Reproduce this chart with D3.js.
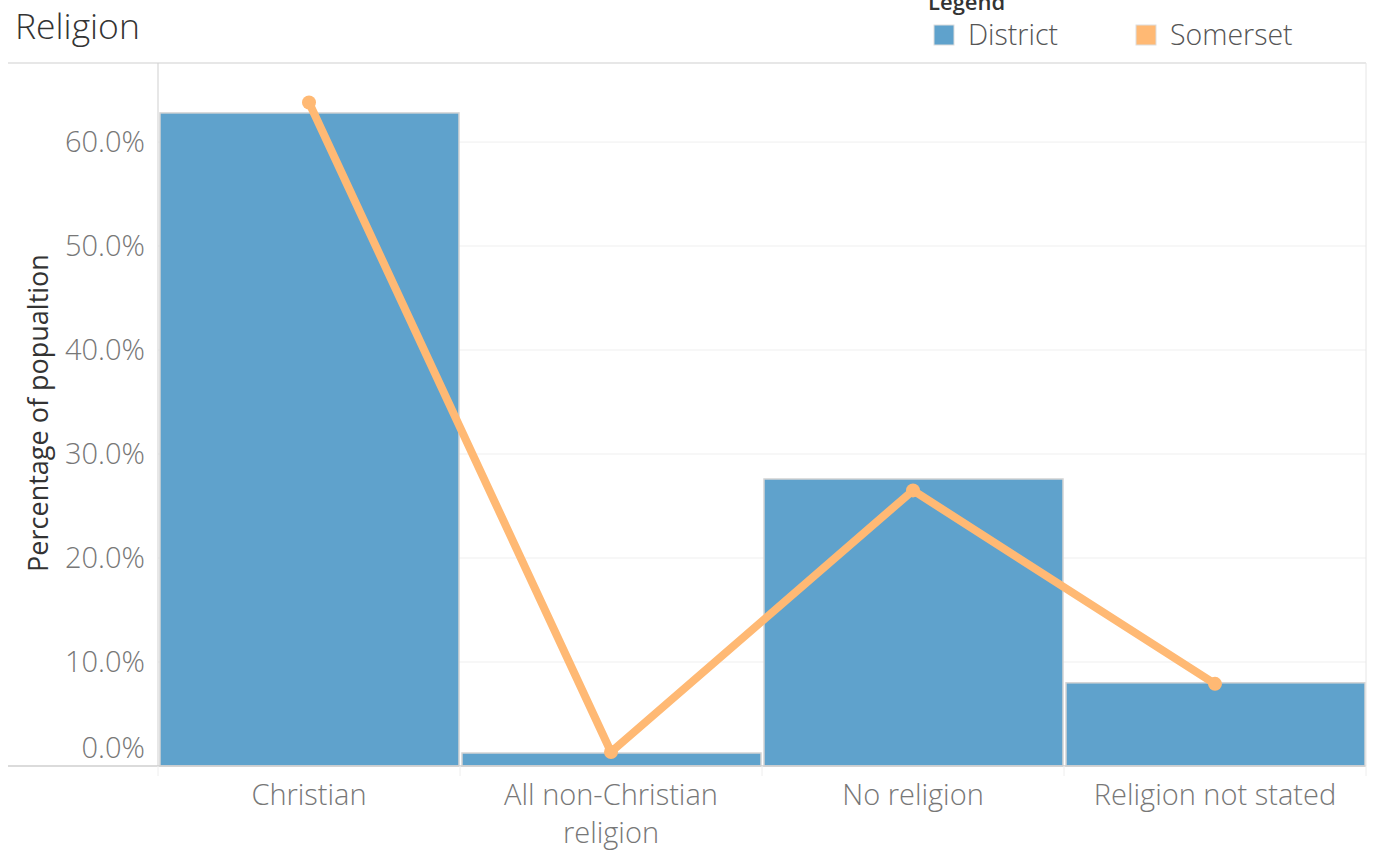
<!DOCTYPE html>
<html><head><meta charset="utf-8">
<script src="https://cdn.jsdelivr.net/npm/d3@7"></script>
<style>body{margin:0;background:#fff;} text{font-family:"Open Sans","Noto Sans",sans-serif;font-weight:300;}</style>
</head><body>
<svg id="c" width="1374" height="850"></svg>
<script>
const categories = ["Christian", "All non-Christian religion", "No religion", "Religion not stated"];
const categoryLines = [["Christian"], ["All non-Christian", "religion"], ["No religion"], ["Religion not stated"]];
const districtValues = [0.628, 0.0125, 0.276, 0.080];
const somersetValues = [0.638, 0.0135, 0.265, 0.079];
const yTicks = [0, 0.1, 0.2, 0.3, 0.4, 0.5, 0.6];
const seriesNames = ["District", "Somerset"];
const colors = ["#5fa2cc", "#ffb974"];

const svg = d3.select("#c");
const L = 158, R = 1366, T = 63, B = 766;
const x = d3.scaleBand().domain(categories).range([L, R]).padding(0);
const y = d3.scaleLinear().domain([0, 0.676]).range([B, T]);

// gridlines
svg.append("g").selectAll("line").data(yTicks.filter(d => d > 0)).join("line")
  .attr("x1", L).attr("x2", R).attr("y1", d => y(d)).attr("y2", d => y(d))
  .attr("stroke", "#efefef").attr("stroke-width", 1);

// bars
svg.append("g").selectAll("rect").data(categories).join("rect")
  .attr("x", d => x(d) + 2).attr("width", x.bandwidth() - 3)
  .attr("y", (d, i) => y(districtValues[i])).attr("height", (d, i) => B - y(districtValues[i]))
  .attr("fill", colors[0]).attr("stroke", "#d4d4d4").attr("stroke-width", 1.5);

// frame lines
svg.append("line").attr("x1", 8).attr("x2", R).attr("y1", T).attr("y2", T).attr("stroke", "#cfcfcf");
svg.append("line").attr("x1", 8).attr("x2", R).attr("y1", B).attr("y2", B).attr("stroke", "#cfcfcf").attr("stroke-width", 1.5);
svg.append("line").attr("x1", L).attr("x2", L).attr("y1", T).attr("y2", B).attr("stroke", "#cfcfcf");
svg.append("line").attr("x1", R).attr("x2", R).attr("y1", T).attr("y2", B).attr("stroke", "#e6e6e6");
// category separators below axis
svg.append("g").selectAll("line").data(categories.concat(["_end"])).join("line")
  .attr("x1", (d, i) => i < categories.length ? x(d) : R).attr("x2", (d, i) => i < categories.length ? x(d) : R)
  .attr("y1", B).attr("y2", B + 10).attr("stroke", "#eeeeee");

// y labels
svg.append("g").selectAll("text").data(yTicks).join("text")
  .attr("x", 145).attr("y", d => Math.min(y(d), 748)).attr("dy", "0.36em")
  .attr("text-anchor", "end").attr("font-size", 29).attr("fill", "#777")
  .text(d => d3.format(".1%")(d));

// y title
svg.append("text").attr("transform", "translate(48,413) rotate(-90)")
  .attr("text-anchor", "middle").attr("font-size", 27).attr("fill", "#333").style("font-weight", 400)
  .text("Percentage of popualtion");

// x labels
const xl = svg.append("g").selectAll("text").data(categories).join("text")
  .attr("text-anchor", "middle").attr("font-size", 29).attr("fill", "#777");
xl.each(function(d, i) {
  d3.select(this).selectAll("tspan").data(categoryLines[i]).join("tspan")
    .attr("x", x(d) + x.bandwidth() / 2).attr("y", (t, j) => 805 + j * 38).text(t => t);
});

// line
const line = d3.line().x((d, i) => x(categories[i]) + x.bandwidth() / 2).y(d => y(d));
svg.append("path").datum(somersetValues).attr("d", line).attr("fill", "none")
  .attr("stroke", colors[1]).attr("stroke-width", 8).attr("stroke-linejoin", "round");
svg.append("g").selectAll("circle").data(somersetValues).join("circle")
  .attr("cx", (d, i) => x(categories[i]) + x.bandwidth() / 2).attr("cy", d => y(d)).attr("r", 7)
  .attr("fill", colors[1]);

// title
svg.append("text").attr("x", 15).attr("y", 39).attr("font-size", 35.5).attr("fill", "#333").text("Religion");

// legend
svg.append("text").attr("x", 928).attr("y", 10).attr("font-size", 22).style("font-weight", 600).attr("fill", "#333").text("Legend");
const lg = svg.append("g").selectAll("g").data(seriesNames).join("g")
  .attr("transform", (d, i) => `translate(${934 + i * 202},25)`);
lg.append("rect").attr("width", 20).attr("height", 20).attr("fill", (d, i) => colors[i]).attr("stroke", "#ddd");
lg.append("text").attr("x", 34).attr("y", 20).attr("font-size", 28.5).attr("fill", "#555").text(d => d);
</script>
</body></html>
